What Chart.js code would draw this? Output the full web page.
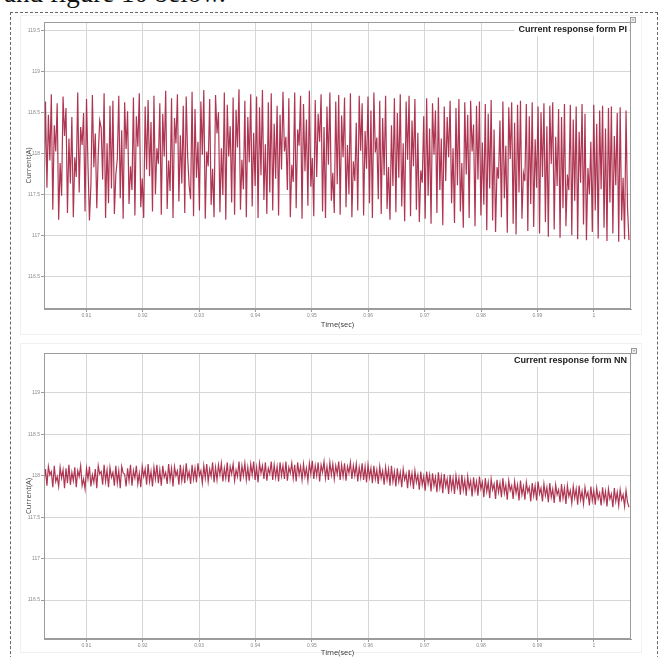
<!DOCTYPE html>
<html>
<head>
<meta charset="utf-8">
<title>Current response</title>
<script src="https://cdn.jsdelivr.net/npm/chart.js@4.4.0/dist/chart.umd.min.js"></script>
<style>
  html, body { margin: 0; padding: 0; background: #fff; }
  body { width: 660px; height: 657px; position: relative; overflow: hidden; }
  .caption { position: absolute; left: 4px; top: -20px; font: 27px/1 "Liberation Serif", serif; color: #111; white-space: nowrap; }
  .page-box { position: absolute; left: 10px; top: 12px; width: 646px; height: 700px; border: 1px dashed #666; }
  .fig { position: absolute; border: 1px solid #f1f1f1; }
  canvas.plot { position: absolute; left: 0; }
  .close { position: absolute; width: 4px; height: 4px; border: 1px solid #999; background: #eee; font: 4px/4px sans-serif; color: #555; text-align: center; }
</style>
</head>
<body>
<div class="caption">and figure 10 below.</div>
<div class="page-box"></div>
<div class="fig" style="left:20px; top:15px; width:620px; height:318px;"></div>
<div class="fig" style="left:20px; top:343px; width:620px; height:308px;"></div>
<canvas id="piChart" class="plot" width="660" height="322" style="top:14px;"></canvas>
<canvas id="nnChart" class="plot" width="660" height="314" style="top:343px;"></canvas>
<div class="close" style="left:630px; top:17px;">×</div>
<div class="close" style="left:631px; top:348px;">×</div>

<script>
// sample times and axis ticks
const T_START = 0.9025;
const T_STEP = 0.00026;
const tickTimes = [0.91, 0.92, 0.93, 0.94, 0.95, 0.96, 0.97, 0.98, 0.99, 1];
const tickCurrents = [116.5, 117, 117.5, 118, 118.5, 119, 119.5];

// stator current with the PI controller (A)
const piCurrent = [
  117.42, 118.63, 117.58, 118.47, 117.91, 118.72, 117.31, 118.34, 118.02, 118.61, 117.19, 117.88, 117.48, 118.69, 118.21, 118.55, 117.27, 118.18, 117.63, 118.44,
  117.22, 117.95, 117.71, 118.74, 117.52, 118.32, 118.10, 118.49, 117.29, 118.66, 117.85, 117.18, 117.62, 118.71, 117.83, 118.24, 117.33, 117.98, 118.40, 118.31,
  117.68, 118.73, 117.21, 118.12, 117.39, 118.58, 117.57, 118.64, 117.26, 117.74, 117.93, 118.70, 117.45, 118.28, 117.20, 118.62, 118.05, 118.51, 117.38, 117.84,
  117.55, 118.68, 117.24, 118.45, 118.08, 118.73, 117.34, 117.69, 117.21, 118.57, 117.80, 118.65, 117.72, 118.38, 117.29, 118.70, 117.50, 118.06, 117.87, 118.61,
  117.25, 118.48, 117.96, 118.76, 117.32, 117.91, 117.54, 118.67, 117.21, 118.43, 118.12, 118.72, 117.41, 118.22, 117.63, 118.58, 117.27, 118.69, 117.95, 117.60,
  117.44, 118.75, 117.23, 118.54, 117.70, 118.14, 117.30, 118.63, 117.98, 118.77, 117.20, 118.02, 117.84, 118.66, 117.37, 117.81, 117.22, 118.71, 118.24, 118.50,
  117.28, 118.06, 117.49, 118.74, 117.19, 118.59, 117.96, 118.33, 117.40, 118.68, 117.25, 118.53, 118.07, 118.78, 117.31, 117.92, 117.56, 118.64, 117.22, 118.44,
  117.89, 118.72, 117.35, 118.25, 117.60, 118.69, 117.21, 118.56, 117.73, 118.77, 117.43, 118.11, 117.26, 118.62, 117.52, 118.73, 117.30, 118.36, 117.69, 118.58,
  117.24, 118.47, 117.80, 118.75, 118.02, 118.20, 117.55, 118.67, 117.22, 117.86, 117.65, 118.74, 117.33, 118.29, 118.09, 118.70, 117.20, 118.60, 117.78, 118.41,
  117.36, 118.76, 117.59, 117.94, 117.23, 118.65, 117.71, 118.48, 118.14, 118.72, 117.29, 118.32, 117.21, 118.57, 117.86, 118.74, 117.42, 117.76, 117.27, 118.63,
  117.62, 118.71, 117.25, 118.46, 117.95, 118.68, 117.34, 118.10, 117.50, 118.73, 117.22, 117.90, 117.66, 118.37, 117.30, 118.70, 118.03, 118.61, 117.24, 118.27,
  117.81, 118.69, 117.39, 118.52, 117.21, 118.74, 118.01, 118.19, 117.44, 118.64, 117.26, 118.43, 117.73, 118.70, 117.32, 117.83, 117.19, 118.34, 117.60, 118.67,
  117.28, 118.49, 117.70, 118.72, 117.35, 118.12, 117.17, 118.63, 117.92, 118.70, 117.23, 118.40, 117.84, 118.66, 117.31, 118.25, 117.16, 117.79, 117.64, 118.45,
  117.20, 118.67, 117.48, 118.30, 117.14, 118.61, 117.98, 118.52, 117.27, 118.68, 117.55, 118.18, 117.12, 118.57, 117.66, 118.44, 117.95, 118.64, 117.39, 118.06,
  117.15, 118.55, 117.61, 118.66, 117.29, 117.88, 117.09, 118.62, 117.74, 118.47, 117.21, 118.64, 118.02, 118.35, 117.11, 118.58, 117.68, 118.63, 117.24, 118.13,
  117.37, 118.60, 117.06, 118.48, 117.57, 118.65, 117.18, 118.29, 117.04, 117.83, 117.69, 118.40, 117.22, 118.63, 117.45, 118.09, 117.03, 118.56, 117.93, 118.62,
  117.14, 118.37, 117.01, 118.59, 117.52, 118.64, 117.20, 117.76, 117.66, 118.60, 117.05, 118.45, 117.38, 118.62, 117.10, 118.17, 117.58, 118.57, 117.02, 118.50,
  117.71, 118.61, 117.16, 118.33, 116.98, 118.58, 117.87, 118.62, 117.07, 118.20, 117.60, 118.54, 116.97, 118.44, 117.33, 118.60, 117.11, 117.74, 117.55, 118.59,
  117.00, 118.41, 117.42, 118.57, 116.95, 118.26, 117.64, 118.60, 117.13, 118.48, 116.94, 117.82, 117.50, 118.14, 117.04, 118.59, 117.30, 118.36, 116.96, 118.52,
  117.56, 118.58, 117.09, 118.30, 116.93, 118.55, 117.40, 118.57, 117.02, 118.21, 117.61, 118.49, 116.92, 118.56, 117.18, 117.70, 116.95, 118.52, 117.34, 116.94
];

// stator current with the NN controller (A)
const nnCurrent = [
  117.92, 118.08, 117.88, 118.11, 118.01, 118.05, 117.86, 118.12, 117.93, 117.99, 117.87, 118.10, 117.97, 118.07, 117.85, 118.09, 117.91, 118.13, 117.89, 118.04,
  117.94, 118.10, 117.86, 118.06, 117.99, 118.12, 117.88, 117.96, 117.84, 118.09, 117.96, 118.11, 117.87, 118.01, 117.92, 118.08, 117.85, 118.12, 118.02, 118.05,
  117.89, 118.13, 117.93, 118.07, 117.86, 118.10, 117.98, 118.04, 117.88, 118.12, 117.91, 118.06, 117.85, 118.11, 118.03, 118.02, 117.87, 118.09, 117.94, 118.13,
  117.88, 118.06, 117.97, 118.12, 117.90, 118.03, 117.86, 118.11, 117.99, 118.08, 117.89, 118.14, 117.93, 118.05, 117.87, 118.10, 117.96, 118.13, 117.91, 118.07,
  117.88, 118.12, 117.98, 118.04, 117.90, 118.14, 117.95, 118.09, 117.87, 118.11, 118.00, 118.06, 117.89, 118.13, 117.94, 118.08, 117.91, 118.15, 117.97, 118.05,
  117.90, 118.13, 117.96, 118.09, 117.92, 118.15, 118.00, 118.06, 117.91, 118.12, 117.97, 118.14, 117.93, 118.08, 117.99, 118.16, 117.92, 118.10, 117.95, 118.13,
  118.01, 118.15, 117.93, 118.09, 117.97, 118.16, 117.92, 118.11, 118.02, 118.14, 117.94, 118.07, 117.99, 118.17, 117.93, 118.12, 118.00, 118.15, 117.95, 118.10,
  117.94, 118.14, 118.01, 118.17, 117.95, 118.10, 117.92, 118.15, 118.03, 118.12, 117.96, 118.16, 117.94, 118.09, 118.02, 118.17, 117.95, 118.13, 117.98, 118.11,
  117.93, 118.16, 118.00, 118.12, 117.96, 118.17, 117.94, 118.10, 118.03, 118.15, 117.97, 118.13, 117.93, 118.16, 118.01, 118.11, 117.95, 118.14, 117.99, 118.09,
  117.94, 118.15, 118.02, 118.18, 117.96, 118.12, 118.00, 118.16, 117.93, 118.13, 118.04, 118.17, 117.97, 118.11, 117.95, 118.16, 118.01, 118.14, 117.96, 118.12,
  118.02, 118.17, 117.95, 118.13, 117.99, 118.15, 117.94, 118.11, 118.03, 118.16, 117.96, 118.12, 118.00, 118.14, 117.93, 118.10, 117.98, 118.15, 117.95, 118.11,
  117.92, 118.13, 117.98, 118.09, 117.91, 118.12, 117.96, 118.07, 117.90, 118.11, 117.97, 118.06, 117.89, 118.10, 117.95, 118.08, 117.88, 118.12, 117.93, 118.05,
  117.87, 118.09, 117.93, 118.04, 117.86, 118.08, 117.95, 118.02, 117.85, 118.07, 117.91, 118.03, 117.84, 118.06, 117.92, 118.01, 117.83, 118.05, 117.89, 117.99,
  117.82, 118.05, 117.90, 118.01, 117.81, 118.03, 117.88, 117.98, 117.80, 118.04, 117.86, 117.99, 117.79, 118.02, 117.87, 117.96, 117.78, 118.01, 117.84, 117.97,
  117.78, 118.00, 117.86, 117.97, 117.77, 118.01, 117.83, 117.95, 117.76, 117.99, 117.85, 117.94, 117.75, 117.98, 117.82, 117.93, 117.76, 117.99, 117.84, 117.92,
  117.74, 117.97, 117.81, 117.92, 117.73, 117.96, 117.83, 117.90, 117.72, 117.95, 117.80, 117.91, 117.74, 117.97, 117.79, 117.89, 117.71, 117.94, 117.82, 117.88,
  117.72, 117.93, 117.79, 117.89, 117.70, 117.94, 117.77, 117.87, 117.71, 117.92, 117.80, 117.86, 117.69, 117.91, 117.76, 117.88, 117.70, 117.93, 117.78, 117.85,
  117.69, 117.90, 117.76, 117.86, 117.68, 117.91, 117.74, 117.84, 117.67, 117.89, 117.77, 117.83, 117.68, 117.90, 117.73, 117.85, 117.66, 117.88, 117.75, 117.82,
  117.67, 117.87, 117.73, 117.84, 117.65, 117.88, 117.71, 117.81, 117.66, 117.86, 117.74, 117.80, 117.64, 117.87, 117.70, 117.82, 117.65, 117.85, 117.72, 117.79,
  117.64, 117.86, 117.70, 117.81, 117.63, 117.84, 117.72, 117.78, 117.62, 117.85, 117.69, 117.80, 117.64, 117.83, 117.71, 117.77, 117.63, 117.82, 117.68, 117.62
];

const GRID = '#d6d6d6';
const FRAME = '#9c9c9c';
const TRACE = 'rgba(158, 10, 44, 0.82)';

function toPoints(values) {
  return values.map((v, i) => ({ x: T_START + i * T_STEP, y: v }));
}

// box around the plot area plus the title in the top right corner
const framePlugin = {
  id: 'frame',
  afterDraw(chart, args, opts) {
    const { ctx, chartArea: a } = chart;
    ctx.save();
    ctx.font = 'bold 9px "Liberation Sans", sans-serif';
    const w = ctx.measureText(opts.text).width;
    ctx.fillStyle = '#fff';
    ctx.fillRect(a.right - w - 8, a.top + 2, w + 6, 12);
    ctx.fillStyle = '#1b1b1b';
    ctx.textAlign = 'right';
    ctx.textBaseline = 'middle';
    ctx.fillText(opts.text, a.right - 4, a.top + 8);
    ctx.strokeStyle = FRAME;
    ctx.lineWidth = 1;
    ctx.strokeRect(Math.round(a.left) + 0.5, Math.round(a.top) + 0.5,
                   Math.round(a.width) - 1, Math.round(a.height) - 1);
    ctx.restore();
  }
};

function buildChart(id, values, cfg) {
  const tickFont = { size: 5, family: 'Liberation Sans' };
  return new Chart(document.getElementById(id), {
    type: 'line',
    data: {
      datasets: [{
        data: toPoints(values),
        borderColor: TRACE,
        borderWidth: 1.2,
        pointRadius: 0,
        tension: 0,
        fill: false
      }]
    },
    options: {
      responsive: false,
      animation: false,
      parsing: false,
      layout: { padding: { top: cfg.top, right: 29, bottom: 0, left: 0 } },
      plugins: {
        legend: { display: false },
        tooltip: { enabled: false },
        frame: { text: cfg.title }
      },
      scales: {
        x: {
          type: 'linear',
          min: 0.9025,
          max: 1.0066,
          afterBuildTicks: s => { s.ticks = tickTimes.map(v => ({ value: v })); },
          afterFit: s => { s.height = cfg.xAxisHeight; },
          ticks: { autoSkip: false, maxRotation: 0, font: tickFont, color: '#8a8a8a', padding: 1, callback: v => String(v) },
          grid: { color: GRID, tickLength: 3, tickColor: FRAME },
          border: { color: FRAME },
          title: {
            display: true, text: 'Time(sec)', color: '#333',
            font: { size: 7.5, family: 'Open Sans' },
            padding: { top: 0, bottom: cfg.xTitlePad }
          }
        },
        y: {
          min: cfg.yMin,
          max: cfg.yMax,
          afterBuildTicks: s => { s.ticks = tickCurrents.filter(v => v <= cfg.yMax).map(v => ({ value: v })); },
          afterFit: s => { s.width = 44; },
          ticks: { font: tickFont, color: '#8a8a8a', padding: 1, callback: v => String(v) },
          grid: { color: GRID, tickLength: 3, tickColor: FRAME },
          border: { color: FRAME },
          title: {
            display: true, text: 'Current(A)', color: '#444',
            font: { size: 7.5, family: 'Open Sans' },
            padding: { top: 24, bottom: 0 }
          }
        }
      }
    },
    plugins: [framePlugin]
  });
}

buildChart('piChart', piCurrent, {
  title: 'Current response form PI',
  yMin: 116.1, yMax: 119.6,
  top: 8, xAxisHeight: 27, xTitlePad: 7
});

buildChart('nnChart', nnCurrent, {
  title: 'Current response form NN',
  yMin: 116.03, yMax: 119.48,
  top: 10, xAxisHeight: 18, xTitlePad: 0
});
</script>
</body>
</html>
